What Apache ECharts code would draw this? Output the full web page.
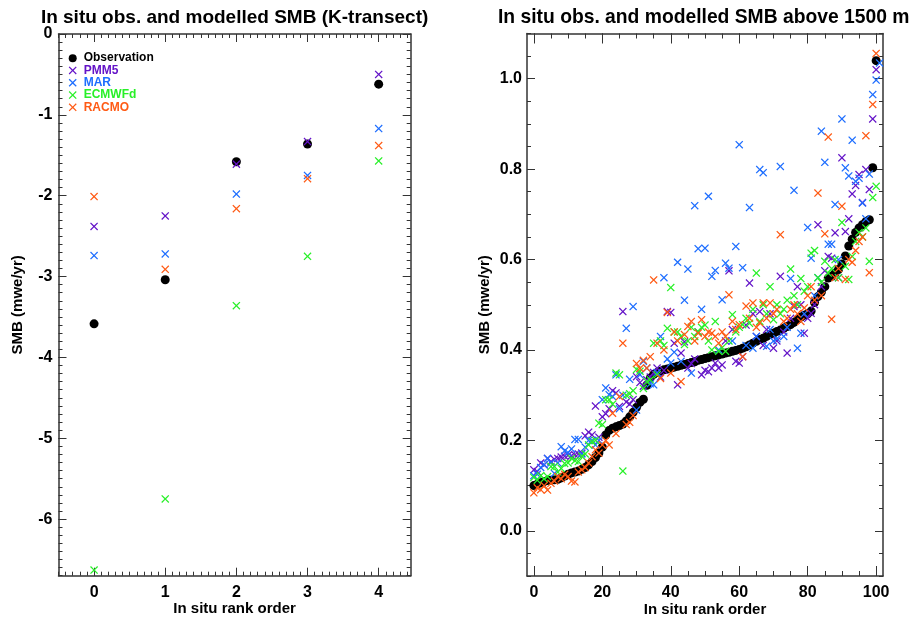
<!DOCTYPE html>
<html>
<head>
<meta charset="utf-8">
<title>In situ obs. and modelled SMB</title>
<script src="https://cdn.jsdelivr.net/npm/echarts@6/dist/echarts.min.js"></script>
<style>
  html, body { margin: 0; padding: 0; background: #fff; }
  #chart { width: 909px; height: 618px; }
</style>
</head>
<body>
<div id="chart"></div>
<script>
// series names / colours (legend order = draw order)
const seriesNames = ['Observation', 'PMM5', 'MAR', 'ECMWFd', 'RACMO'];
const seriesColors = ['#000000', '#6414C8', '#1E6EFF', '#28F028', '#FF5A14'];

// left panel: K-transect, 5 sites
const kRank = [0, 1, 2, 3, 4];
const kObs = [-3.585, -3.04, -1.58, -1.36, -0.62];
const kPMM5 = [-2.38, -2.25, -1.61, -1.33, -0.50];
const kMAR = [-2.74, -2.72, -1.98, -1.75, -1.17];
const kECMWFd = [-6.63, -5.75, -3.36, -2.75, -1.57];
const kRACMO = [-2.01, -2.91, -2.16, -1.79, -1.38];

// right panel: sites above 1500 m, index = in situ rank
const hObs = [
  0.100,0.103,0.106,0.109,0.111,0.112,0.113,0.114,0.117,0.121,
  0.125,0.128,0.130,0.132,0.136,0.140,0.146,0.153,0.162,0.172,
  0.185,0.212,0.222,0.227,0.230,0.233,0.236,0.243,0.252,0.262,
  0.273,0.284,0.291,0.322,0.338,0.346,0.350,0.353,0.356,0.358,
  0.360,0.362,0.364,0.366,0.368,0.370,0.372,0.374,0.377,0.379,
  0.381,0.383,0.385,0.387,0.389,0.391,0.393,0.395,0.397,0.399,
  0.401,0.404,0.407,0.411,0.415,0.419,0.423,0.426,0.430,0.434,
  0.437,0.441,0.444,0.448,0.452,0.456,0.461,0.467,0.473,0.477,
  0.480,0.486,0.505,0.518,0.528,0.540,0.559,0.563,0.570,0.578,
  0.590,0.608,0.630,0.645,0.660,0.670,0.677,0.684,0.688,0.803,
  1.040
];
const hPMM5 = [
  0.135,0.131,0.150,0.146,0.160,0.153,0.158,0.160,0.163,0.165,
  0.167,0.166,0.168,0.170,0.172,0.210,0.218,0.212,0.276,0.207,
  0.252,0.259,0.270,0.310,0.305,0.275,0.485,0.285,0.280,0.290,
  0.341,0.328,0.320,0.334,0.340,0.350,0.360,0.340,0.355,0.485,
  0.483,0.415,0.323,0.393,0.418,0.360,0.370,0.380,0.440,0.345,
  0.355,0.352,0.360,0.371,0.360,0.367,0.420,0.575,0.445,0.375,
  0.371,0.385,0.455,0.548,0.480,0.430,0.485,0.410,0.445,0.480,
  0.404,0.420,0.563,0.440,0.393,0.470,0.496,0.540,0.500,0.437,
  0.470,0.481,0.500,0.677,0.540,0.575,0.607,0.603,0.659,0.560,
  0.825,0.662,0.690,0.745,0.764,0.788,0.726,0.799,0.755,0.911,
  1.020
];
const hMAR = [
  0.122,0.125,0.140,0.146,0.160,0.150,0.127,0.150,0.186,0.177,
  0.173,0.181,0.202,0.202,0.170,0.185,0.200,0.200,0.190,0.200,
  0.290,0.316,0.301,0.297,0.345,0.270,0.300,0.448,0.335,0.496,
  0.267,0.345,0.375,0.360,0.325,0.323,0.350,0.430,0.560,0.380,
  0.371,0.395,0.594,0.375,0.510,0.579,0.349,0.719,0.624,0.490,
  0.625,0.740,0.563,0.576,0.400,0.511,0.592,0.581,0.420,0.629,
  0.854,0.582,0.410,0.715,0.404,0.430,0.799,0.792,0.408,0.445,
  0.420,0.425,0.806,0.430,0.450,0.558,0.753,0.404,0.437,0.480,
  0.671,0.603,0.520,0.560,0.884,0.815,0.634,0.634,0.722,0.600,
  0.911,0.803,0.785,0.864,0.773,0.780,0.725,0.690,0.789,0.965,
  0.997,1.035
];
const hECMWFd = [
  0.118,0.112,0.122,0.115,0.120,0.142,0.142,0.130,0.138,0.149,
  0.150,0.160,0.155,0.153,0.165,0.170,0.190,0.197,0.200,0.238,
  0.235,0.290,0.290,0.280,0.349,0.345,0.132,0.300,0.303,0.310,
  0.357,0.353,0.315,0.330,0.334,0.415,0.345,0.420,0.410,0.448,
  0.538,0.440,0.440,0.430,0.412,0.420,0.450,0.430,0.440,0.450,
  0.455,0.420,0.400,0.463,0.397,0.405,0.397,0.420,0.478,0.440,
  0.450,0.456,0.470,0.459,0.490,0.570,0.463,0.500,0.480,0.540,
  0.467,0.500,0.480,0.490,0.510,0.579,0.520,0.500,0.558,0.530,
  0.540,0.614,0.620,0.560,0.550,0.596,0.570,0.580,0.600,0.560,
  0.682,0.585,0.556,0.607,0.640,0.660,0.650,0.670,0.596,0.737,
  0.762
];
const hRACMO = [
  0.084,0.095,0.091,0.100,0.090,0.105,0.110,0.120,0.115,0.125,
  0.120,0.110,0.108,0.130,0.135,0.140,0.150,0.164,0.179,0.172,
  0.190,0.200,0.190,0.260,0.215,0.297,0.415,0.235,0.240,0.255,
  0.370,0.359,0.377,0.360,0.385,0.555,0.415,0.337,0.400,0.483,
  0.349,0.440,0.420,0.330,0.434,0.452,0.463,0.420,0.437,0.467,
  0.430,0.440,0.437,0.430,0.415,0.440,0.430,0.522,0.463,0.445,
  0.456,0.385,0.497,0.470,0.504,0.450,0.460,0.504,0.470,0.504,
  0.480,0.490,0.655,0.463,0.470,0.490,0.500,0.480,0.463,0.493,
  0.520,0.540,0.510,0.747,0.520,0.657,0.871,0.468,0.560,0.580,
  0.718,0.556,0.600,0.594,0.620,0.640,0.650,0.874,0.571,0.943,
  1.056
];

// tick labels
const kTicksX = [0, 1, 2, 3, 4];
const kTicksY = [0, -1, -2, -3, -4, -5, -6];
const hTicksX = [0, 20, 40, 60, 80, 100];
const hTicksY = [0, 0.2, 0.4, 0.6, 0.8, 1.0];

const FONT = 'Liberation Sans';
const AXIS_COLOR = '#333';
// filled "x" shape so it renders the same in plot and legend
const CROSS = 'path://M0,1.1L1.1,0L5,3.9L8.9,0L10,1.1L6.1,5L10,8.9L8.9,10L5,6.1L1.1,10L0,8.9L3.9,5Z';

function steps(from, to, step) {
    const out = [];
    const n = Math.round((to - from) / step);
    for (let i = 0; i <= n; i++) out.push(+(from + i * step).toFixed(4));
    return out;
}

// IDL-style frame: major + minor ticks, inside, on all four sides
function frameAxes(grid, min, max, majors, minors, sides, extra) {
    const tickStyle = { color: AXIS_COLOR, width: 1 };
    const axes = [];
    sides.forEach((pos, k) => {
        const primary = k === 0;
        axes.push(Object.assign({
            type: 'value', gridIndex: grid, position: pos, min: min, max: max,
            axisLine: { show: true, onZero: false, lineStyle: { color: AXIS_COLOR, width: 1.5 } },
            axisTick: { show: true, inside: true, length: extra.major, customValues: majors, lineStyle: tickStyle },
            axisLabel: primary ? Object.assign({
                show: true, customValues: majors, color: '#000',
                fontFamily: FONT, fontWeight: 'bold', fontSize: 16
            }, extra.label) : { show: false },
            splitLine: { show: false }
        }, primary ? extra.name : {}));
        axes.push({
            type: 'value', gridIndex: grid, position: pos, min: min, max: max,
            axisLine: { show: false, onZero: false },
            axisTick: { show: true, inside: true, length: extra.minor, customValues: minors, lineStyle: tickStyle },
            axisLabel: { show: false },
            splitLine: { show: false }
        });
    });
    return axes;
}

const xName = {
    name: 'In situ rank order', nameLocation: 'middle', nameGap: 26, nameMoveOverlap: false,
    nameTextStyle: { fontFamily: FONT, fontWeight: 'bold', fontSize: 15, color: '#000' }
};
const yName = (gap) => ({
    name: 'SMB (mwe/yr)', nameLocation: 'middle', nameGap: gap, nameMoveOverlap: false,
    nameTextStyle: { fontFamily: FONT, fontWeight: 'bold', fontSize: 15, color: '#000' }
});

const xAxes = [].concat(
    frameAxes(0, -0.5, 4.45, kTicksX, steps(-0.5, 4.4, 0.1), ['bottom', 'top'],
        { major: 8, minor: 4, label: { margin: 9 }, name: xName }),
    frameAxes(1, -2, 102, hTicksX, steps(0, 100, 5), ['bottom', 'top'],
        { major: 10, minor: 5, label: { margin: 9 }, name: xName })
);
const yAxes = [].concat(
    frameAxes(0, -6.7, 0, kTicksY, steps(-6.7, 0, 0.1), ['left', 'right'],
        { major: 8, minor: 4, label: { margin: 6 }, name: yName(33) }),
    frameAxes(1, -0.1, 1.1, hTicksY, steps(-0.1, 1.1, 0.05), ['left', 'right'],
        { major: 8, minor: 4, label: { margin: 5, formatter: (v) => v.toFixed(1) }, name: yName(35) })
);

const kSets = [kObs, kPMM5, kMAR, kECMWFd, kRACMO];
const hSets = [hObs, hPMM5, hMAR, hECMWFd, hRACMO];

function scatter(name, color, data, axisIdx, isObs, size) {
    return {
        type: 'scatter', name: name,
        xAxisIndex: axisIdx, yAxisIndex: axisIdx,
        symbol: isObs ? 'circle' : CROSS,
        symbolSize: isObs ? size + 1 : size,
        itemStyle: { color: color, opacity: 1 },
        data: data,
        z: 2
    };
}

const series = [];
seriesNames.forEach((name, s) => {
    series.push(scatter(name, seriesColors[s],
        kSets[s].map((v, i) => [kRank[i], v]), 0, s === 0, 8));
});
seriesNames.forEach((name, s) => {
    series.push(scatter(name, seriesColors[s],
        hSets[s].map((v, i) => [i, v]), 4, s === 0, 8));
});

const chart = echarts.init(document.getElementById('chart'), null, { renderer: 'canvas' });
chart.setOption({
    animation: false,
    backgroundColor: '#fff',
    title: [
        { text: 'In situ obs. and modelled SMB (K-transect)', left: 234.6, textAlign: 'center', top: 8, padding: 0,
          textStyle: { fontFamily: FONT, fontWeight: 'bold', fontSize: 19, color: '#000' } },
        { text: 'In situ obs. and modelled SMB above 1500 m', left: 498, top: 8, padding: 0,
          textStyle: { fontFamily: FONT, fontWeight: 'bold', fontSize: 19.3, color: '#000' } }
    ],
    legend: {
        orient: 'vertical', left: 68.7, top: 52, padding: 0,
        itemWidth: 12, itemHeight: 8, itemGap: 0,
        selectedMode: false,
        data: seriesNames.map((n, i) => ({
            name: n,
            textStyle: { color: seriesColors[i], fontFamily: FONT, fontWeight: 'bold', fontSize: 12, lineHeight: 12.3 }
        }))
    },
    grid: [
        { left: 58.5, top: 34, width: 352.2, height: 541.7, outerBoundsMode: 'none' },
        { left: 527, top: 33.5, width: 356, height: 542.5, outerBoundsMode: 'none' }
    ],
    xAxis: xAxes,
    yAxis: yAxes,
    series: series
});
</script>
</body>
</html>
